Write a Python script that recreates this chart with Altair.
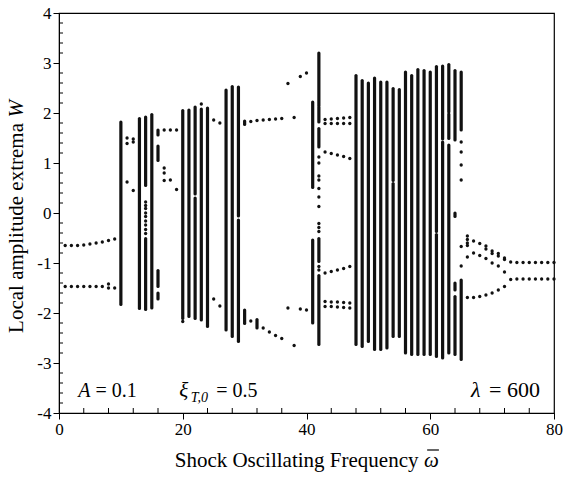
import altair as alt
import pandas as pd

# ---------------- chaotic bands: (omega, upper end, lower end) ----------------
band_omega = [10, 13, 14, 14, 15, 16, 16, 16, 16,
              20, 21, 22, 22, 23, 24, 27, 28, 29, 29, 30, 30, 32,
              41, 41, 42, 42, 42, 42, 42,
              48, 49, 50, 51, 52, 53, 54, 54, 55, 56, 57, 58, 59, 60,
              61, 61, 62, 62, 63, 63, 63, 64, 64, 64, 64, 65, 65]
band_upper = [1.82, 1.89, 1.92, -0.51, 1.97, 1.66, 1.34, -1.15, -1.60,
              2.05, 2.06, 2.12, 0.30, 2.08, 2.10, 2.46, 2.53, 2.52, -0.14, 1.84, -1.94, -2.13,
              2.22, -0.54, 3.20, 2.12, 1.69, -0.51, -1.25,
              2.75, 2.65, 2.60, 2.70, 2.62, 2.62, 2.49, 0.59, 2.47, 2.82, 2.75, 2.87, 2.85, 2.82,
              2.93, -0.43, 2.94, 1.42, 2.97, 1.98, 1.36, 2.85, 0.00, -1.40, -1.67, 2.82, -1.34]
band_lower = [-1.83, -1.91, 0.55, -1.93, -1.90, 1.56, 1.05, -1.47, -1.72,
              -2.11, -2.07, 0.38, -2.11, -2.14, -2.27, -2.34, -2.47, -0.06, -2.57, 1.77, -2.21, -2.30,
              0.51, -2.20, 2.15, 1.82, 1.32, -0.97, -2.63,
              -2.63, -2.67, -2.57, -2.73, -2.73, -2.70, 0.65, -2.47, -2.47, -2.80, -2.83, -2.83, -2.83, -2.83,
              -0.37, -2.87, 1.48, -2.90, 2.02, 1.49, -2.80, 1.46, -0.07, -1.54, -2.83, 1.66, -2.93]

# ---------------- discrete extrema (periodic responses) ----------------
omega_low = [1, 2, 3, 4, 5, 6, 7, 8, 9]
w_low_upper = [-0.65, -0.65, -0.65, -0.64, -0.62, -0.60, -0.58, -0.55, -0.52]
w_low_lower = [-1.47, -1.47, -1.47, -1.47, -1.47, -1.47, -1.47, -1.42, -1.50]

pt_omega = [8, 11, 11, 11, 12, 12, 12,
            14, 14, 14, 14, 14, 14, 14, 14, 14,
            17, 17, 17, 17, 18, 18, 19, 19, 20, 23,
            25, 25, 26, 26, 31, 31, 32, 33, 33, 34, 34, 35, 35, 36, 36,
            37, 37, 38, 38, 39, 39, 40, 40,
            42, 42, 42, 42, 42, 42, 42, 42, 42, 42, 42, 42,
            65, 65, 65, 65, 65, 65]
pt_w = [-1.50, 1.50, 1.39, 0.62, 1.48, 1.42, 0.45,
        0.22, 0.15, 0.09, 0.00, -0.07, -0.16, -0.24, -0.33, -0.41,
        1.66, 0.90, 0.80, 0.65, 1.66, 0.66, 1.66, 0.47, -2.17, 2.18,
        1.86, -1.72, 1.80, -1.86, 1.83, -2.16, 1.85, 1.86, -2.30, 1.87, -2.38, 1.88, -2.45, 1.89, -2.51,
        2.59, -1.90, 1.91, -2.65, 2.73, -1.92, 2.80, -1.94,
        1.12, 1.00, 0.74, 0.66, 0.49, 0.32, 0.13, -0.21, -0.29, -0.37, -1.07, -1.14,
        1.42, 1.22, 0.96, 0.66, -0.67, -1.06]

omega_mid = [43, 44, 45, 46, 47]
w_mid_a = [1.87, 1.88, 1.89, 1.90, 1.91]
w_mid_b = [1.79, 1.79, 1.79, 1.79, 1.79]
w_mid_c = [1.22, 1.19, 1.16, 1.13, 1.09]
w_mid_d = [-1.20, -1.17, -1.14, -1.11, -1.07]
w_mid_e = [-1.77, -1.78, -1.78, -1.79, -1.80]
w_mid_f = [-1.87, -1.87, -1.88, -1.89, -1.90]

omega_high = [66, 67, 68, 69, 70, 71, 72, 73, 74, 75, 76, 77, 78, 79, 80]
w_high_top = [-0.46, -0.56, -0.61, -0.66, -0.76, -0.81, -0.90, -0.98, -0.99, -0.99, -0.99, -0.99, -0.99, -0.99, -0.99]
w_high_bot = [-1.69, -1.69, -1.67, -1.64, -1.60, -1.54, -1.47, -1.33, -1.32, -1.32, -1.32, -1.32, -1.32, -1.32, -1.32]
omega_branch = [66, 67, 68, 69, 70, 71, 72]
w_branch_mid = [-0.88, -0.80, -0.85, -0.91, -1.00, -1.06, -1.18]
omega_extra = [66, 66, 66, 69, 70, 71, 72]
w_extra = [-0.53, -0.60, -0.65, -0.72, -0.81, -0.86, -0.93]

x_major = [0, 20, 40, 60, 80]
y_major = [-4, -3, -2, -1, 0, 1, 2, 3, 4]
x_minor = [4, 8, 12, 16, 24, 28, 32, 36, 44, 48, 52, 56, 64, 68, 72, 76]
y_minor = [v / 10 for v in range(-38, 40, 2) if v % 10 != 0]

# ---------------- tables ----------------
bands = pd.DataFrame({"omega": band_omega, "hi": band_upper, "lo": band_lower})

om, ww = [], []
def add(o, w):
    om.extend(o); ww.extend(w)
add(omega_low, w_low_upper); add(omega_low, w_low_lower)
add(pt_omega, pt_w)
for s in (w_mid_a, w_mid_b, w_mid_c, w_mid_d, w_mid_e, w_mid_f):
    add(omega_mid, s)
add(omega_high, w_high_top); add(omega_high, w_high_bot)
add(omega_branch, w_branch_mid); add(omega_extra, w_extra)
points = pd.DataFrame({"omega": om, "w": ww})

FONT = "Liberation Serif"
xs = alt.Scale(domain=[0, 80], nice=False, zero=False)
ys = alt.Scale(domain=[-4, 4], nice=False, zero=False)

xaxis = alt.Axis(values=x_major, title=None, grid=False, labelExpr="'' + datum.value", labelFlush=False)
yaxis = alt.Axis(values=y_major, title=None, grid=False, labelExpr="'' + datum.value")

def X(field):
    return alt.X(field, scale=xs, title=None)

def Y(field):
    return alt.Y(field, scale=ys, title=None)

band_layer = alt.Chart(bands).mark_rule(strokeWidth=3.2, strokeCap="round", color="#111").encode(
    x=alt.X("omega:Q", scale=xs, axis=xaxis),
    y=alt.Y("hi:Q", scale=ys, axis=yaxis),
    y2="lo:Q",
)
pt_layer = alt.Chart(points).mark_circle(size=11, color="#111", opacity=1).encode(
    x=X("omega:Q"), y=Y("w:Q"))

xminor_layer = alt.Chart(pd.DataFrame({"t": x_minor})).mark_rule(color="black", strokeWidth=1).encode(
    x=X("t:Q"), y=alt.value(400), y2=alt.value(395))
yminor_layer = alt.Chart(pd.DataFrame({"t": y_minor})).mark_rule(color="black", strokeWidth=1).encode(
    y=Y("t:Q"), x=alt.value(0), x2=alt.value(4))

# overbar of the omega symbol in the x title
bar_layer = alt.Chart(pd.DataFrame({"a": [59.5], "b": [61.4]})).mark_rule(color="black", strokeWidth=1.2).encode(
    x=X("a:Q"), x2="b:Q", y=alt.value(437))

def txt(x, y, s, size, italic=False, align="left", dy=0):
    kw = dict(font=FONT, fontSize=size, color="black", align=align, baseline="alphabetic", dy=dy)
    if italic:
        kw["fontStyle"] = "italic"
    return alt.Chart(pd.DataFrame({"x": [x], "y": [y], "s": [s]})).mark_text(**kw).encode(
        x=X("x:Q"), y=Y("y:Q"), text="s:N")

def txt_px(x, ypx, s, size, italic=False, align="left"):
    kw = dict(font=FONT, fontSize=size, color="black", align=align, baseline="alphabetic")
    if italic:
        kw["fontStyle"] = "italic"
    return alt.Chart(pd.DataFrame({"x": [x], "s": [s]})).mark_text(**kw).encode(
        x=X("x:Q"), y=alt.value(ypx), text="s:N")

def txt_rot(xpx, ypx, s, size, italic=False, align="left"):
    kw = dict(font=FONT, fontSize=size, color="black", align=align, baseline="middle", angle=270)
    if italic:
        kw["fontStyle"] = "italic"
    return alt.Chart(pd.DataFrame({"s": [s]})).mark_text(**kw).encode(
        x=alt.value(xpx), y=alt.value(ypx), text="s:N")

annotations = [
    txt(3.1, -3.67, "A", 20, italic=True),
    txt(5.9, -3.67, "= 0.1", 20),
    txt(19.45, -3.67, "ξ", 21, italic=True),
    txt(21.3, -3.77, "T,0", 14, italic=True),
    txt(25.4, -3.67, "= 0.5", 20),
    txt(66.6, -3.67, "λ", 22, italic=True),
    txt(69.5, -3.67, "= 600", 22),
    txt_px(58.1, 454, "Shock Oscillating Frequency", 21, align="right"),
    txt_px(59.0, 454, "ω", 21, italic=True),
    txt_rot(-41.6, 110, "Local amplitude extrema", 21, align="right"),
    txt_rot(-41.6, 104.5, "W", 21, italic=True, align="left"),
]

chart = alt.layer(band_layer, pt_layer, xminor_layer, yminor_layer, bar_layer, *annotations).properties(
    width=495, height=400,
    autosize=alt.AutoSizeParams(type="none"),
    padding={"left": 59, "top": 13, "right": 10, "bottom": 68},
    background="white",
).configure_view(stroke="black", strokeWidth=1.2).configure_axis(
    labelFont=FONT, labelFontSize=17, labelColor="black", labelPadding=2,
    tickSize=6, tickColor="black", domainColor="black", grid=False,
)

chart.save("out.html", embed_options={"renderer": "svg", "actions": False})
